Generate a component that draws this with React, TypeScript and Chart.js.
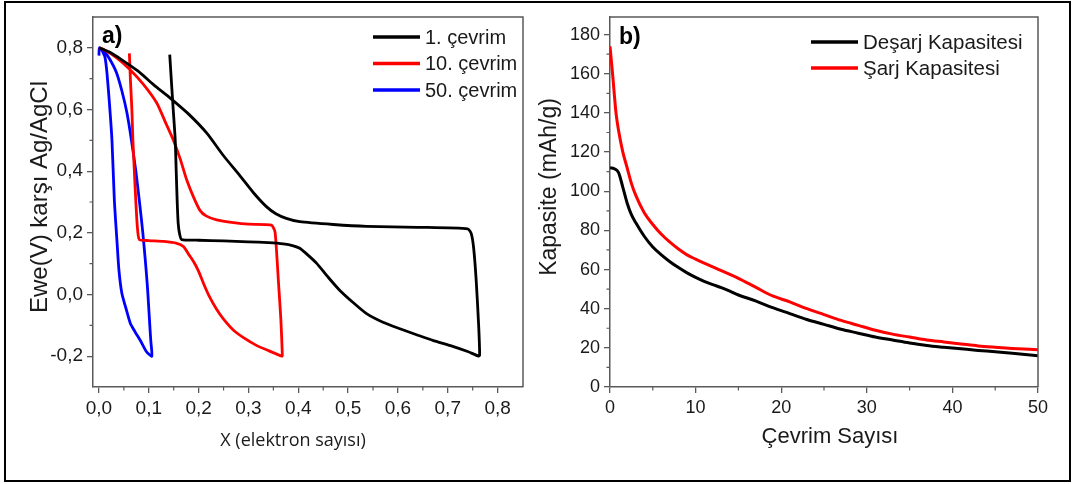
import React, { useEffect, useRef } from 'react';
import { Chart, registerables } from 'chart.js';

Chart.register(...registerables);

const FONT = '"Liberation Sans", Arial, sans-serif';
const AXIS_COLOR = '#5a5a5a';
const TEXT_COLOR = '#1a1a1a';

// ---------- Panel a) : potential vs electron number ----------
const seriesLabelsA = ['1. çevrim', '10. çevrim', '50. çevrim'];
const seriesColorsA = ['#000000', '#ff0000', '#0000ff'];

const cycle1X = [0.142, 0.145, 0.149, 0.153, 0.155, 0.157, 0.159, 0.162, 0.166, 0.2, 0.25, 0.3, 0.34, 0.37, 0.39, 0.403, 0.42, 0.437, 0.46, 0.483, 0.51, 0.537, 0.57, 0.604, 0.64, 0.67, 0.71, 0.74, 0.762,
  0.764, 0.762, 0.757, 0.752, 0.747, 0.74, 0.64, 0.537, 0.47, 0.403, 0.376, 0.355, 0.336, 0.31, 0.283, 0.25, 0.216, 0.18, 0.143, 0.11, 0.078, 0.045, 0.02, 0.0];
const cycle1Y = [0.778, 0.7, 0.6, 0.502, 0.4, 0.3, 0.23, 0.195, 0.178, 0.176, 0.174, 0.171, 0.168, 0.164, 0.158, 0.15, 0.127, 0.101, 0.056, 0.014, -0.026, -0.062, -0.09, -0.111, -0.132, -0.149, -0.168, -0.185, -0.2,
  -0.197, -0.1, 0.047, 0.15, 0.198, 0.213, 0.218, 0.221, 0.227, 0.236, 0.247, 0.262, 0.285, 0.33, 0.385, 0.45, 0.524, 0.585, 0.637, 0.68, 0.725, 0.762, 0.787, 0.8];

const cycle10X = [0.061, 0.063, 0.066, 0.068, 0.071, 0.074, 0.077, 0.081, 0.1, 0.13, 0.156, 0.17, 0.181, 0.19, 0.2, 0.21, 0.222, 0.236, 0.25, 0.27, 0.29, 0.316, 0.34, 0.367,
  0.368, 0.365, 0.36, 0.356, 0.353, 0.346, 0.3, 0.27, 0.236, 0.215, 0.203, 0.19, 0.176, 0.163, 0.149, 0.133, 0.116, 0.09, 0.0625, 0.035, 0.009, 0.0];
const cycle10Y = [0.782, 0.7, 0.6, 0.502, 0.4, 0.3, 0.22, 0.178, 0.175, 0.172, 0.166, 0.155, 0.128, 0.106, 0.075, 0.035, -0.008, -0.048, -0.08, -0.116, -0.14, -0.165, -0.182, -0.2,
  -0.197, -0.08, 0.046, 0.15, 0.205, 0.225, 0.228, 0.233, 0.242, 0.255, 0.272, 0.315, 0.372, 0.44, 0.502, 0.56, 0.621, 0.68, 0.729, 0.768, 0.795, 0.8];

const cycle50X = [0.0, 0.001, 0.01, 0.022, 0.035, 0.046, 0.056, 0.065, 0.074, 0.082, 0.088, 0.093, 0.097, 0.099, 0.102, 0.104, 0.106,
  0.095, 0.083, 0.072, 0.063, 0.055, 0.046, 0.04, 0.036, 0.031, 0.026, 0.021, 0.016, 0.012, 0.005];
const cycle50Y = [0.775, 0.8, 0.79, 0.762, 0.72, 0.66, 0.59, 0.502, 0.4, 0.29, 0.2, 0.111, 0.03, -0.02, -0.1, -0.15, -0.2,
  -0.185, -0.149, -0.12, -0.094, -0.05, 0.003, 0.08, 0.176, 0.3, 0.502, 0.62, 0.719, 0.77, 0.795];

const xTicksA = [0, 0.1, 0.2, 0.3, 0.4, 0.5, 0.6, 0.7, 0.8];
const xMinorA = [0.05, 0.15, 0.25, 0.35, 0.45, 0.55, 0.65, 0.75];
const yTicksA = [-0.2, 0, 0.2, 0.4, 0.6, 0.8];
const yMinorA = [-0.1, 0.1, 0.3, 0.5, 0.7];

// ---------- Panel b) : capacity vs cycle number ----------
const seriesLabelsB = ['Deşarj Kapasitesi', 'Şarj Kapasitesi'];
const seriesColorsB = ['#000000', '#ff0000'];

const dischargeCycles = [0, 0.5, 1, 1.5, 2, 2.5, 3, 4, 5, 6, 7, 8, 9, 10, 11, 12, 13, 14, 15, 17, 19, 21, 23, 25, 27, 29, 31, 33, 35, 37, 39, 41, 43, 45, 47, 50];
const dischargeCapacity = [112, 111.5, 109.5, 102, 94, 88, 84, 77, 71.5, 67.5, 64, 61, 58.3, 56, 54, 52.3, 50.8, 49, 47, 44, 40.5, 37.5, 34.5, 32, 29.5, 27.5, 25.5, 24, 22.5, 21.2, 20.3, 19.5, 18.7, 18, 17.2, 16];

const chargeCycles = [0, 0.3, 0.7, 1, 1.5, 2, 2.5, 3, 4, 5, 6, 7, 8, 9, 10, 11, 12, 13, 14, 15, 17, 19, 21, 23, 25, 27, 29, 31, 33, 35, 37, 39, 41, 43, 45, 47, 50];
const chargeCapacity = [174, 160, 140, 131, 120, 112, 104, 98, 89, 83, 78, 74, 70.5, 67.5, 65.3, 63.3, 61.4, 59.5, 57.5, 55.5, 51, 46.5, 43.5, 40, 37, 34, 31.5, 29, 27, 25.5, 24, 23, 22, 21, 20.3, 19.7, 19];

const xTicksB = [0, 10, 20, 30, 40, 50];
const xMinorB = [5, 15, 25, 35, 45];
const yTicksB = [0, 20, 40, 60, 80, 100, 120, 140, 160, 180];
const yMinorB = [10, 30, 50, 70, 90, 110, 130, 150, 170];

// ---------- helpers ----------
const toPoints = (xs: number[], ys: number[]) => xs.map((x, i) => ({ x, y: ys[i] }));
const comma = (digits: number) => (v: any) => Number(v).toFixed(digits).replace('.', ',').replace('-0,0', '0,0');

const decorPlugin = {
  id: 'panelDecor',
  afterDraw(chart: any, _args: any, opts: any) {
    const { ctx, chartArea: a, scales } = chart;
    const xs = scales.x;
    const ys = scales.y;
    ctx.save();
    // top and right frame
    ctx.strokeStyle = AXIS_COLOR;
    ctx.lineWidth = 1.5;
    ctx.beginPath();
    ctx.moveTo(a.left, a.top);
    ctx.lineTo(a.right, a.top);
    ctx.lineTo(a.right, a.bottom);
    ctx.stroke();
    // minor ticks
    ctx.lineWidth = 1.2;
    ctx.beginPath();
    for (const v of opts.xMinor) {
      const p = xs.getPixelForValue(v);
      ctx.moveTo(p, a.bottom);
      ctx.lineTo(p, a.bottom + 3.5);
    }
    for (const v of opts.yMinor) {
      const p = ys.getPixelForValue(v);
      ctx.moveTo(a.left, p);
      ctx.lineTo(a.left - 3.5, p);
    }
    ctx.stroke();
    // panel label
    ctx.fillStyle = '#000';
    ctx.font = `bold 23px ${FONT}`;
    ctx.textBaseline = 'middle';
    ctx.textAlign = 'left';
    ctx.fillText(opts.panel, a.left + opts.panelDx, a.top + opts.panelDy);
    // legend
    ctx.font = `${opts.legendFont}px ${FONT}`;
    chart.data.datasets.forEach((ds: any, i: number) => {
      const y = a.top + opts.legendTop + i * opts.legendStep;
      const x0 = a.left + opts.legendX;
      ctx.strokeStyle = ds.borderColor;
      ctx.lineWidth = 3.5;
      ctx.beginPath();
      ctx.moveTo(x0, y);
      ctx.lineTo(x0 + opts.legendLine, y);
      ctx.stroke();
      ctx.fillStyle = TEXT_COLOR;
      ctx.fillText(ds.label, x0 + opts.legendLine + 5, y + 1);
    });
    // y title
    ctx.save();
    ctx.translate(opts.yTitleX, opts.yTitleY);
    ctx.rotate(-Math.PI / 2);
    ctx.textAlign = 'center';
    ctx.font = `${opts.yTitleFont}px ${FONT}`;
    ctx.fillStyle = TEXT_COLOR;
    ctx.fillText(opts.yTitle, 0, 0);
    ctx.restore();
    // x title
    ctx.font = opts.xTitleFont;
    ctx.textAlign = 'center';
    ctx.fillStyle = TEXT_COLOR;
    ctx.fillText(opts.xTitle, opts.xTitleX, opts.xTitleY);
    ctx.restore();
  },
};

function makeScales(xMin: number, xMax: number, yMin: number, yMax: number, xTicks: number[], yTicks: number[], fmtX: any, fmtY: any, yWidth: number, xHeight: number, fontSize: number) {
  const common = {
    type: 'linear',
    grid: { drawOnChartArea: false, drawTicks: true, tickLength: 6, color: AXIS_COLOR, lineWidth: 1.3 },
    border: { display: true, color: AXIS_COLOR, width: 1.5 },
  };
  return {
    x: {
      ...common,
      min: xMin,
      max: xMax,
      afterBuildTicks: (s: any) => { s.ticks = xTicks.map((v) => ({ value: v })); },
      afterFit: (s: any) => { s.height = xHeight; },
      ticks: { callback: fmtX, color: TEXT_COLOR, font: { family: FONT, size: fontSize }, padding: 4, maxRotation: 0, autoSkip: false },
    },
    y: {
      ...common,
      min: yMin,
      max: yMax,
      afterBuildTicks: (s: any) => { s.ticks = yTicks.map((v) => ({ value: v })); },
      afterFit: (s: any) => { s.width = yWidth; },
      ticks: { callback: fmtY, color: TEXT_COLOR, font: { family: FONT, size: fontSize }, padding: 4, autoSkip: false },
    },
  };
}

function PanelA() {
  const ref = useRef<HTMLCanvasElement | null>(null);
  useEffect(() => {
    const xsList = [cycle1X, cycle10X, cycle50X];
    const ysList = [cycle1Y, cycle10Y, cycle50Y];
    const chart = new Chart(ref.current as HTMLCanvasElement, {
      type: 'scatter',
      data: {
        datasets: seriesLabelsA.map((label, i) => ({
          label,
          data: toPoints(xsList[i], ysList[i]),
          showLine: true,
          borderColor: seriesColorsA[i],
          backgroundColor: seriesColorsA[i],
          borderWidth: 2.8,
          pointRadius: 0,
          tension: 0.2,
          borderJoinStyle: 'round',
        })),
      },
      options: {
        responsive: false,
        animation: false,
        devicePixelRatio: 1,
        layout: { padding: { left: 0, top: 17, right: 17, bottom: 0 } },
        plugins: {
          legend: { display: false },
          tooltip: { enabled: false },
          panelDecor: {
            xMinor: xMinorA, yMinor: yMinorA,
            panel: 'a)', panelDx: 9, panelDy: 20,
            legendFont: 20, legendTop: 20, legendStep: 26.5, legendX: 280, legendLine: 47,
            yTitle: 'Ewe(V) karşı Ag/AgCl', yTitleX: 40, yTitleY: 197, yTitleFont: 24,
            xTitle: 'X (elektron sayısı)', xTitleX: 293, xTitleY: 441, xTitleFont: '18px "Open Sans", "DejaVu Sans", sans-serif',
          },
        } as any,
        scales: makeScales(-0.012, 0.851, -0.3, 0.9, xTicksA, yTicksA, comma(1), comma(1), 93, 97, 19) as any,
      },
      plugins: [decorPlugin as any],
    });
    return () => chart.destroy();
  }, []);
  return <canvas ref={ref} width={540} height={484} style={{ position: 'absolute', left: 0, top: 0 }} />;
}

function PanelB() {
  const ref = useRef<HTMLCanvasElement | null>(null);
  useEffect(() => {
    const xsList = [dischargeCycles, chargeCycles];
    const ysList = [dischargeCapacity, chargeCapacity];
    const chart = new Chart(ref.current as HTMLCanvasElement, {
      type: 'scatter',
      data: {
        datasets: seriesLabelsB.map((label, i) => ({
          label,
          data: toPoints(xsList[i], ysList[i]),
          showLine: true,
          borderColor: seriesColorsB[i],
          backgroundColor: seriesColorsB[i],
          borderWidth: 3,
          pointRadius: 0,
          tension: 0.3,
          cubicInterpolationMode: 'monotone',
        })),
      },
      options: {
        responsive: false,
        animation: false,
        devicePixelRatio: 1,
        layout: { padding: { left: 0, top: 17, right: 37, bottom: 0 } },
        plugins: {
          legend: { display: false },
          tooltip: { enabled: false },
          panelDecor: {
            xMinor: xMinorB, yMinor: yMinorB,
            panel: 'b)', panelDx: 9, panelDy: 21,
            legendFont: 20.5, legendTop: 25, legendStep: 26, legendX: 201, legendLine: 47,
            yTitle: 'Kapasite (mAh/g)', yTitleX: 20, yTitleY: 187, yTitleFont: 23,
            xTitle: 'Çevrim Sayısı', xTitleX: 300, xTitleY: 437, xTitleFont: `22px ${FONT}`,
          },
        } as any,
        scales: makeScales(0, 50, 0, 189, xTicksB, yTicksB, (v: any) => String(v), (v: any) => String(v), 80, 97, 18) as any,
      },
      plugins: [decorPlugin as any],
    });
    return () => chart.destroy();
  }, []);
  return <canvas ref={ref} width={545} height={484} style={{ position: 'absolute', left: 530, top: 0 }} />;
}

export default function App() {
  return (
    <div style={{ position: 'absolute', left: 0, top: 0, width: 1075, height: 484, background: '#fff', overflow: 'hidden' }}>
      <PanelA />
      <PanelB />
      <div style={{ position: 'absolute', left: 4, top: 1, width: 1067, height: 481, border: '2px solid #000', boxSizing: 'border-box', pointerEvents: 'none' }} />
    </div>
  );
}
